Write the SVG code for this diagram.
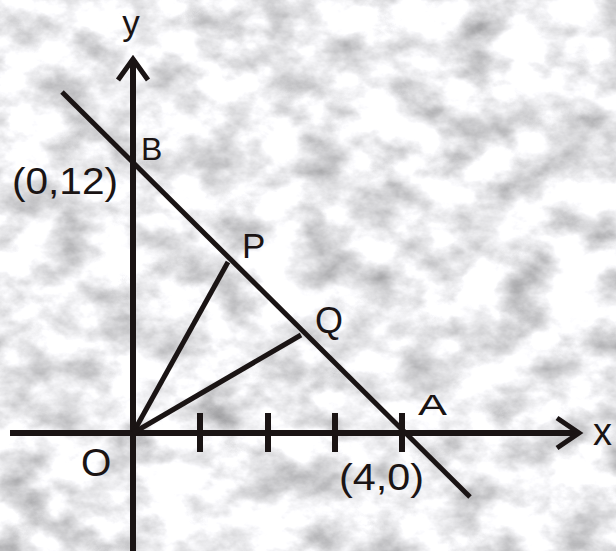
<svg xmlns="http://www.w3.org/2000/svg" width="616" height="551" viewBox="0 0 616 551">
<defs>
<filter id="marble" x="0" y="0" width="100%" height="100%" color-interpolation-filters="sRGB">
<feTurbulence type="fractalNoise" baseFrequency="0.02 0.028" numOctaves="5" seed="7" result="n"/>
<feColorMatrix in="n" type="matrix" values="0.7 0.2 0 0 0.48  0.7 0.2 0 0 0.48  0.7 0.2 0 0 0.49  0 0 0 0 1"/>
</filter>
<style>
.ln{stroke:#1a1414;stroke-width:5;fill:none;stroke-linecap:butt}
.ax{stroke:#1a1414;stroke-width:6;fill:none}
.tk{stroke:#1a1414;stroke-width:6}
.ah{stroke:#1a1414;stroke-width:5;fill:none;stroke-linejoin:miter}
text{font-family:"Liberation Sans",Arial,sans-serif;fill:#1a1414}
</style>
</defs>
<rect width="616" height="551" fill="#e8e8e8"/>
<rect width="616" height="551" filter="url(#marble)"/>
<g id="connectors">
<line class="ax" x1="133" y1="60" x2="133" y2="551"/>
<polyline class="ah" points="118,80 133,59 148,80"/>
<line class="ax" x1="10" y1="433" x2="578" y2="433"/>
<polyline class="ah" points="557,418 579,433 557,448"/>
<line class="ln" x1="62" y1="92" x2="470" y2="497"/>
<line class="ln" x1="133" y1="433" x2="228" y2="262"/>
<line class="ln" x1="133" y1="433" x2="301" y2="335"/>
<line class="tk" x1="200" y1="413" x2="200" y2="452"/>
<line class="tk" x1="268" y1="413" x2="268" y2="452"/>
<line class="tk" x1="335" y1="413" x2="335" y2="452"/>
<line class="tk" x1="402" y1="413" x2="402" y2="452"/>
</g>
<g id="label-y"><text x="131" y="35" font-size="35" text-anchor="middle">y</text></g>
<g id="node-B"><text x="141" y="160" font-size="32">B</text></g>
<g id="label-B"><text x="12" y="194" font-size="37" textLength="106" lengthAdjust="spacingAndGlyphs">(0,12)</text></g>
<g id="node-P"><text x="242" y="258" font-size="35">P</text></g>
<g id="node-Q"><text x="315" y="333" font-size="36">Q</text></g>
<g id="node-A"><text x="418" y="415" font-size="30" textLength="29" lengthAdjust="spacingAndGlyphs">A</text></g>
<g id="label-x"><text x="593" y="445" font-size="38">x</text></g>
<g id="node-O"><text x="81" y="476" font-size="39">O</text></g>
<g id="label-A"><text x="339" y="490" font-size="37" textLength="85" lengthAdjust="spacingAndGlyphs">(4,0)</text></g>
</svg>
